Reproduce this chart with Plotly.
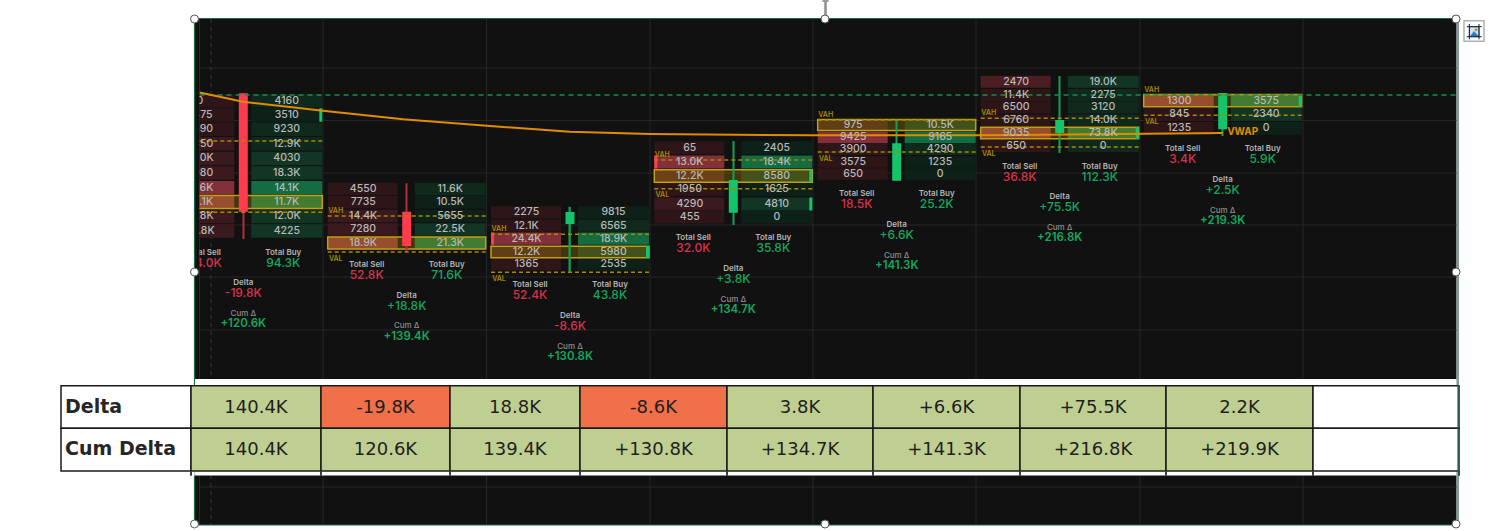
import plotly.graph_objects as go

# ---- footprint data, one entry per session bar ----
bar_centers = [243.3, 406.7, 570.0, 733.3, 896.7, 1059.7, 1222.7]
row_centers = [
    [100.7, 115.0, 129.3, 143.7, 158.5, 173.0, 187.7, 202.0, 216.5, 231.0],
    [189.0, 202.3, 216.0, 229.5, 243.0],
    [212.3, 225.7, 238.7, 252.0, 264.5],
    [147.7, 162.0, 176.0, 189.5, 204.0, 217.0],
    [125.0, 137.5, 149.3, 162.0, 174.0],
    [81.7, 95.0, 107.5, 120.5, 133.0, 146.0],
    [100.7, 114.3, 128.3],
]
row_heights = [13.6, 12.6, 12.2, 13.0, 11.4, 12.0, 12.8]
sell_volumes = [
    ["0", "2475", "6890", "8450", "10.0K", "9080", "15.6K", "24.1K", "14.8K", "20.8K"],
    ["4550", "7735", "14.4K", "7280", "18.9K"],
    ["2275", "12.1K", "24.4K", "12.2K", "1365"],
    ["65", "13.0K", "12.2K", "1950", "4290", "455"],
    ["975", "9425", "3900", "3575", "650"],
    ["2470", "11.4K", "6500", "6760", "9035", "650"],
    ["1300", "845", "1235"],
]
buy_volumes = [
    ["4160", "3510", "9230", "12.9K", "4030", "18.3K", "14.1K", "11.7K", "12.0K", "4225"],
    ["11.6K", "10.5K", "5655", "22.5K", "21.3K"],
    ["9815", "6565", "18.9K", "5980", "2535"],
    ["2405", "18.4K", "8580", "1625", "4810", "0"],
    ["10.5K", "9165", "4290", "1235", "0"],
    ["19.0K", "2275", "3120", "14.0K", "73.8K", "0"],
    ["3575", "2340", "0"],
]
sell_shades = [
    [1, 1, 1, 2, 2, 2, 4, 4, 2, 2],
    [1, 1, 2, 2, 4],
    [1, 1, 4, 2, 1],
    [1, 4, 3, 1, 2, 1],
    [2, 4, 1, 1, 1],
    [3, 1, 1, 1, 4, 1],
    [4, 1, 1],
]
buy_shades = [
    [1, 0, 1, 1, 2, 2, 4, 4, 2, 2],
    [1, 0, 0, 2, 4],
    [0, 1, 4, 2, 0],
    [0, 4, 2, 0, 2, 0],
    [2, 4, 1, 0, 0],
    [2, 1, 1, 1, 4, 1],
    [4, 2, 0],
]
poc_rows = [7, 4, 3, 2, 0, 4, 0]
vah_levels = [141.0, 216.0, 234.3, 160.0, 120.0, 118.3, 95.0]
val_levels = [212.3, 252.0, 272.3, 188.7, 152.0, 147.0, 115.3]
candle_open = [211.7, 246.0, 224.0, 212.7, 180.7, 133.0, 129.3]
candle_close = [93.3, 211.7, 212.0, 180.0, 143.3, 120.0, 93.0]
candle_high = [93.3, 183.3, 206.7, 141.0, 120.7, 76.0, 93.0]
candle_low = [239.0, 251.7, 271.7, 225.0, 180.7, 153.0, 136.0]
candle_up = [False, False, True, True, True, True, True]
# (bar, row, side) for the bright imbalance ticks on the outer cell edge
imbalance_ticks = [(0, 1, "buy"), (2, 2, "sell"), (2, 3, "buy"), (3, 1, "sell"),
                   (3, 2, "buy"), (3, 4, "buy"), (5, 4, "buy"), (6, 0, "buy")]

total_sell = ["114.0K", "52.8K", "52.4K", "32.0K", "18.5K", "36.8K", "3.4K"]
total_buy = ["94.3K", "71.6K", "43.8K", "35.8K", "25.2K", "112.3K", "5.9K"]
delta_text = ["-19.8K", "+18.8K", "-8.6K", "+3.8K", "+6.6K", "+75.5K", "+2.5K"]
cum_delta_text = ["+120.6K", "+139.4K", "+130.8K", "+134.7K", "+141.3K", "+216.8K", "+219.3K"]
total_label_levels = [252.7, 265.0, 285.3, 238.3, 194.3, 166.7, 149.3]

vwap_x = [199.5, 243, 323, 403, 490, 570, 650, 733, 813, 976, 1140, 1222.7]
vwap_y = [92.5, 101.7, 110.7, 119.3, 126.0, 131.7, 134.0, 135.0, 135.3, 135.3, 134.0, 133.0]

# ---- summary table under the chart ----
table_edges = [191, 321, 450, 580, 727, 873, 1020, 1166, 1313, 1459]
table_row_edges = [385.7, 428.3, 471.0]
table_labels = ["Delta", "Cum Delta"]
table_delta = ["140.4K", "-19.8K", "18.8K", "-8.6K", "3.8K", "+6.6K", "+75.5K", "2.2K", ""]
table_cum = ["140.4K", "120.6K", "139.4K", "+130.8K", "+134.7K", "+141.3K", "+216.8K", "+219.9K", ""]

grid_x = [199.5, 323, 486.5, 650, 813, 976, 1140, 1303]
grid_y = [68, 120.5, 173, 225, 277, 330, 487]

# ---- styling ----
W, H = 1498, 531
PANEL = "#111111"
GRID = "#262626"
SELL_PALETTE = ["#251214", "#2d1518", "#3a1a1e", "#4a1e23", "#83303c"]
BUY_PALETTE = ["#0e2118", "#0f2a1c", "#123524", "#14492f", "#146c42"]
RED, GREEN = "#ff3b4e", "#14c46a"
TEXT_RED, TEXT_GREEN = "#d8324a", "#12a860"
GOLD = "#a88a00"
FONT = "Inter, Liberation Sans, sans-serif"
TABLE_FONT = "DejaVu Sans, sans-serif"


def hbar(xaxis, yaxis, left, right, mid, thick, color, line=None, line_w=0):
    return go.Bar(
        orientation="h", base=left, x=[r - l for l, r in zip(left, right)], y=mid, width=thick,
        marker=dict(color=color, line=dict(color=line or "rgba(0,0,0,0)", width=line_w)),
        hoverinfo="skip", showlegend=False, xaxis=xaxis, yaxis=yaxis,
    )


def lines(xaxis, yaxis, xs, ys, color, width=1, dash="solid"):
    return go.Scatter(
        x=xs, y=ys, mode="lines", line=dict(color=color, width=width, dash=dash),
        hoverinfo="skip", showlegend=False, xaxis=xaxis, yaxis=yaxis,
    )


def texts(xaxis, yaxis, xs, ys, labels, size, color, weight=400, family=FONT):
    return go.Scatter(
        x=xs, y=ys, text=labels, mode="text", textposition="middle center",
        textfont=dict(size=size, color=color, family=family, weight=weight),
        hoverinfo="skip", showlegend=False, xaxis=xaxis, yaxis=yaxis,
    )


def segs_h(levels, starts, ends):
    xs, ys = [], []
    for y, a, b in zip(levels, starts, ends):
        xs += [a, b, None]
        ys += [y, y, None]
    return xs, ys


def segs_v(positions, top, bottom):
    xs, ys = [], []
    for x in positions:
        xs += [x, x, None]
        ys += [top, bottom, None]
    return xs, ys


fig = go.Figure()

# -- bottom layer: dark panel and its grid --
fig.add_trace(hbar("x", "y", [194.5], [1456.5], [272], [506], PANEL))
gx, gy = segs_v(grid_x, 19, 525)
fig.add_trace(lines("x", "y", gx, gy, GRID, 1))
gx, gy = segs_h(grid_y, [199.5] * len(grid_y), [1456.5] * len(grid_y))
fig.add_trace(lines("x", "y", gx, gy, GRID, 1))
fig.add_trace(lines("x", "y", [211, 211], [19, 525], "#34343a", 1, "4px,4px"))

# -- footprint cells, clipped at the panel's left grid line --
left_s, right_s, mid_s, thick_s, col_s = [], [], [], [], []
left_b, right_b, mid_b, thick_b, col_b = [], [], [], [], []
for i, c in enumerate(bar_centers):
    for j, y in enumerate(row_centers[i]):
        left_s.append(c - 79); right_s.append(c - 9); mid_s.append(y)
        thick_s.append(row_heights[i]); col_s.append(SELL_PALETTE[sell_shades[i][j]])
        left_b.append(c + 8); right_b.append(c + 79); mid_b.append(y)
        thick_b.append(row_heights[i]); col_b.append(BUY_PALETTE[buy_shades[i][j]])
fig.add_trace(hbar("x2", "y2", left_s, right_s, mid_s, thick_s, col_s))
fig.add_trace(hbar("x2", "y2", left_b, right_b, mid_b, thick_b, col_b))

# point-of-control highlight
poc_mid = [row_centers[i][poc_rows[i]] for i in range(7)]
fig.add_trace(hbar(
    "x2", "y2",
    [c - 79 for c in bar_centers], [c + 79 for c in bar_centers], poc_mid,
    [h - 0.6 for h in row_heights], "rgba(205,165,0,0.26)", "#c29f12", 1.5,
))

# imbalance ticks
for side, color in (("sell", RED), ("buy", GREEN)):
    marks = [(b, r) for b, r, s in imbalance_ticks if s == side]
    if side == "sell":
        tick_l = [bar_centers[b] - 79 for b, r in marks]
    else:
        tick_l = [bar_centers[b] + 76 for b, r in marks]
    fig.add_trace(hbar("x2", "y2", tick_l, [a + 3 for a in tick_l],
                       [row_centers[b][r] for b, r in marks],
                       [row_heights[b] for b, r in marks], color))

# candle wicks then bodies
wick_colors = ["#b32d3c" if not u else "#12a058" for u in candle_up]
fig.add_trace(hbar("x2", "y2", [c - 0.8 for c in bar_centers], [c + 0.8 for c in bar_centers],
                   [(h + l) / 2 for h, l in zip(candle_high, candle_low)],
                   [l - h for h, l in zip(candle_high, candle_low)], wick_colors))
fig.add_trace(hbar("x2", "y2", [c - 4.5 for c in bar_centers], [c + 4.5 for c in bar_centers],
                   [(o + k) / 2 for o, k in zip(candle_open, candle_close)],
                   [o - k for o, k in zip(candle_open, candle_close)],
                   [GREEN if u else RED for u in candle_up]))

# value-area levels
sx = [c - 79 for c in bar_centers]
ex = [c + 80 for c in bar_centers]
gx, gy = segs_h(vah_levels + val_levels, sx + sx, ex + ex)
fig.add_trace(lines("x2", "y2", gx, gy, GOLD, 1.4, "4px,3px"))
fig.add_trace(lines("x2", "y2", [199.5, 1456.5], [95, 95], "#1d8a4e", 1.3, "5px,4px"))

# volume-weighted price
fig.add_trace(lines("x2", "y2", vwap_x, vwap_y, "#e08c00", 2))
fig.add_trace(texts("x2", "y2", [1242.7], [132.7], ["VWAP"], 10, "#e08c00", 700))

# cell volumes
xs_s, ys_s, tx_s, xs_b, ys_b, tx_b = [], [], [], [], [], []
for i, c in enumerate(bar_centers):
    for j, y in enumerate(row_centers[i]):
        xs_s.append(c - 43.5); ys_s.append(y + 0.3); tx_s.append(sell_volumes[i][j])
        xs_b.append(c + 43.5); ys_b.append(y + 0.3); tx_b.append(buy_volumes[i][j])
fig.add_trace(texts("x2", "y2", xs_s + xs_b, ys_s + ys_b, tx_s + tx_b, 10.5, "#b8b8b8", 500))

# value-area captions
cap_x = [c - 71 for c in bar_centers]
fig.add_trace(texts("x2", "y2", cap_x, [v - 5 for v in vah_levels], ["VAH"] * 7, 7, GOLD, 600))
fig.add_trace(texts("x2", "y2", cap_x, [v + 7 for v in val_levels], ["VAL"] * 7, 7, GOLD, 600))

# per-bar statistics
lab_x, lab_y, lab_t = [], [], []
for i, c in enumerate(bar_centers):
    y0 = total_label_levels[i]
    lab_x += [c - 40, c + 40]
    lab_y += [y0, y0]
    lab_t += ["Total Sell", "Total Buy"]
fig.add_trace(texts("x2", "y2", lab_x, lab_y, lab_t, 8, "#b4b4b4", 600))
fig.add_trace(texts("x2", "y2", bar_centers,
                    [y + 30.7 for y in total_label_levels], ["Delta"] * 7, 8, "#b4b4b4", 600))
fig.add_trace(texts("x2", "y2", bar_centers,
                    [y + 61.3 for y in total_label_levels], ["Cum Δ"] * 7, 8, "#8e8e8e", 500))
fig.add_trace(texts("x2", "y2", [c - 40 for c in bar_centers],
                    [y + 11 for y in total_label_levels], total_sell, 12, TEXT_RED, 500))
fig.add_trace(texts("x2", "y2", [c + 40 for c in bar_centers],
                    [y + 11 for y in total_label_levels], total_buy, 12, TEXT_GREEN, 500))
fig.add_trace(texts("x2", "y2", bar_centers, [y + 41.7 for y in total_label_levels], delta_text, 12,
                    [TEXT_RED if t.startswith("-") else TEXT_GREEN for t in delta_text], 500))
fig.add_trace(texts("x2", "y2", bar_centers, [y + 71.7 for y in total_label_levels], cum_delta_text,
                    11.5, TEXT_GREEN, 600))

# -- top layer: white band, table, selection handles --
fig.add_trace(hbar("x3", "y3", [194.5], [1456.5], [427.3], [96.6], "#ffffff"))
row_mid = [(table_row_edges[0] + table_row_edges[1]) / 2, (table_row_edges[1] + table_row_edges[2]) / 2]
row_thick = table_row_edges[1] - table_row_edges[0]
fig.add_trace(hbar("x3", "y3", [61, 61], [191, 191], row_mid, [row_thick] * 2, "#ffffff", "#1a1a1a", 1.5))
cell_l, cell_r, cell_m, cell_c, cell_tx, cell_ty, cell_t = [], [], [], [], [], [], []
for r, row in enumerate((table_delta, table_cum)):
    for k, t in enumerate(row):
        a, b = table_edges[k], table_edges[k + 1]
        cell_l.append(a); cell_r.append(b); cell_m.append(row_mid[r])
        cell_c.append("#ffffff" if t == "" else ("#f07049" if t.startswith("-") else "#bfcf91"))
        cell_tx.append((a + b) / 2); cell_ty.append(row_mid[r] + 1); cell_t.append(t)
fig.add_trace(hbar("x3", "y3", cell_l, cell_r, cell_m, [row_thick] * len(cell_m), cell_c, "#1a1a1a", 1.5))
gx, gy = segs_v(table_edges, 471, 475.7)
fig.add_trace(lines("x3", "y3", gx, gy, "#3c3c3c", 2))
fig.add_trace(texts("x3", "y3", cell_tx, cell_ty, cell_t, 18, "#1f1f1f", 400, TABLE_FONT))
fig.add_trace(go.Scatter(
    x=[65, 65], y=[m + 1 for m in row_mid], text=table_labels, mode="text", textposition="middle right",
    textfont=dict(size=19, color="#262626", family=TABLE_FONT, weight=700),
    hoverinfo="skip", showlegend=False, xaxis="x3", yaxis="y3",
))

# frame of the selected picture
gx = [194.5, 1458, None, 194.5, 1458, None, 194.5, 194.5, None, 194.5, 194.5, None, 1458, 1458]
gy = [18.5, 18.5, None, 525, 525, None, 18.5, 385, None, 476, 525, None, 18.5, 525]
fig.add_trace(lines("x3", "y3", gx, gy, "#1c6b45", 1.2))
fig.add_trace(lines("x3", "y3", [825.5, 825.5], [2, 15], "#8f8f8f", 2.5))
fig.add_trace(lines("x3", "y3", [822.5, 828.5], [1, 1], "#555555", 1.2))
fig.add_trace(go.Scatter(
    x=[194.5, 825, 1456, 194.5, 1456, 194.5, 825, 1456],
    y=[19, 19, 19, 272, 272, 524, 524, 524], mode="markers",
    marker=dict(size=8, color="#ffffff", line=dict(color="#555555", width=1)),
    hoverinfo="skip", showlegend=False, xaxis="x3", yaxis="y3", cliponaxis=False,
))

# crop button beside the picture
fig.add_trace(hbar("x3", "y3", [1464], [1484], [31], [20.5], "#ffffff", "#b0b0b0", 1.5))
fig.add_trace(hbar("x3", "y3", [1469.5], [1479], [31.7], [10], "#cfe3f5", "#2a7bc8", 1))
fig.add_trace(go.Scatter(
    x=[1470.5, 1474, 1476, 1478.5], y=[36, 31.5, 33.5, 36], mode="lines", fill="toself",
    fillcolor="#2a7bc8", line=dict(color="#2a7bc8", width=0.5),
    hoverinfo="skip", showlegend=False, xaxis="x3", yaxis="y3",
))
fig.add_trace(lines("x3", "y3",
                    [1469.3, 1469.3, None, 1479, 1479, None, 1466.7, 1481.7, None, 1466.7, 1481.7],
                    [24, 39.3, None, 24, 39.3, None, 26.7, 26.7, None, 36.7, 36.7], "#1a1a2a", 1))
fig.add_trace(go.Scatter(
    x=[1476], y=[29.7], mode="markers", marker=dict(size=3, color="#e8862a"),
    hoverinfo="skip", showlegend=False, xaxis="x3", yaxis="y3",
))

hidden = dict(visible=False, fixedrange=True)
fig.update_layout(
    width=W, height=H, margin=dict(l=0, r=0, t=0, b=0, pad=0),
    paper_bgcolor="#ffffff", plot_bgcolor="rgba(0,0,0,0)",
    barmode="overlay", showlegend=False,
    xaxis=dict(range=[0, W], domain=[0, 1], anchor="y", **hidden),
    yaxis=dict(range=[H, 0], domain=[0, 1], anchor="x", **hidden),
    xaxis2=dict(range=[199.5, 1456.5], domain=[199.5 / W, 1456.5 / W], anchor="y2", **hidden),
    yaxis2=dict(range=[379, 19], domain=[(H - 379) / H, (H - 19) / H], anchor="x2", **hidden),
    xaxis3=dict(range=[0, W], domain=[0, 1], anchor="y3", **hidden),
    yaxis3=dict(range=[H, 0], domain=[0, 1], anchor="x3", **hidden),
)

fig.write_html("out.html", config={"displayModeBar": False})
